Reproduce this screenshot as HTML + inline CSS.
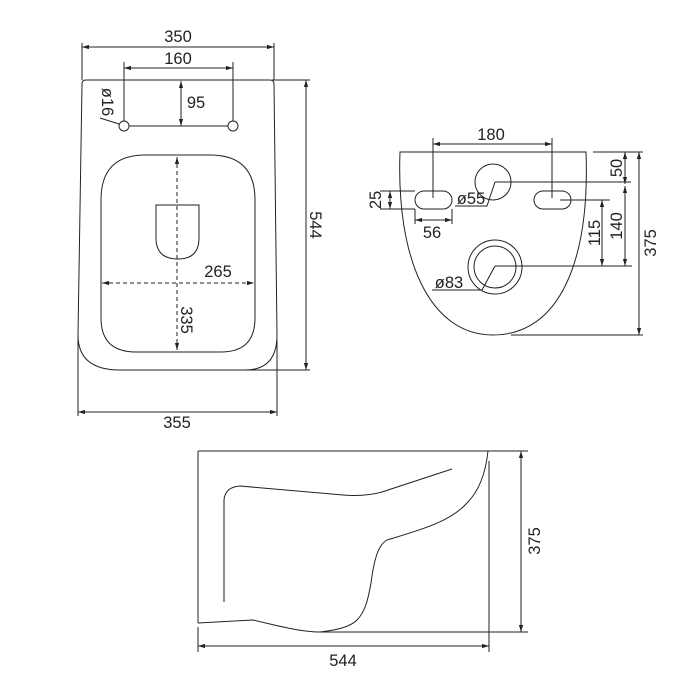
<!DOCTYPE html>
<html><head><style>html,body{margin:0;padding:0;background:#fff;}svg{display:block}</style></head>
<body>
<svg width="700" height="700" viewBox="0 0 700 700" xmlns="http://www.w3.org/2000/svg" font-family="Liberation Sans, sans-serif" font-size="16.5" fill="none" stroke="#222" stroke-width="1">
<defs>
<marker id="a" viewBox="0 0 10 10" refX="10" refY="5" markerWidth="7" markerHeight="7" orient="auto-start-reverse"><path d="M0,2 L10,5 L0,8 z" fill="#222" stroke="none"/></marker>
</defs>
<!-- TOP VIEW -->
<path d="M86,80 L270,80 Q274,80 274,84 L277,335 Q277,370 245,370 L120,370 Q78,370 78,335 L82,84 Q82,80 86,80 Z"/>
<path d="M82,43 V80 M274,43 V80"/>
<line x1="82" y1="47" x2="274" y2="47" marker-start="url(#a)" marker-end="url(#a)"/>
<path d="M124,62 V121 M233,62 V121"/>
<line x1="124" y1="68" x2="233" y2="68" marker-start="url(#a)" marker-end="url(#a)"/>
<circle cx="124" cy="126" r="5"/><circle cx="233" cy="126" r="5"/>
<line x1="129" y1="126" x2="228" y2="126"/>
<line x1="181" y1="81" x2="181" y2="126" marker-start="url(#a)" marker-end="url(#a)"/>
<path d="M100,118 L119,124"/>
<path d="M145,155 L210,155 Q255,155 255,200 L255,318 Q255,352 221,352 L136,352 Q101,352 101,318 L101,200 Q101,155 145,155 Z"/>
<path d="M156,205 H199 V238 Q199,259 178,259 Q156,259 156,238 Z"/>
<line x1="177" y1="157" x2="177" y2="350" stroke-dasharray="4,3" marker-start="url(#a)" marker-end="url(#a)"/>
<line x1="102" y1="283" x2="254" y2="283" stroke-dasharray="4,3" marker-start="url(#a)" marker-end="url(#a)"/>
<path d="M272,80 H310 M245,370 H310"/>
<line x1="306" y1="80" x2="306" y2="370" marker-start="url(#a)" marker-end="url(#a)"/>
<path d="M78,335 V416 M277,340 V416"/>
<line x1="78" y1="412" x2="277" y2="412" marker-start="url(#a)" marker-end="url(#a)"/>
<g fill="#222" stroke="none">
<text x="178" y="42" text-anchor="middle">350</text>
<text x="178" y="64" text-anchor="middle">160</text>
<text x="196" y="108" text-anchor="middle">95</text>
<text transform="translate(102,102) rotate(90)" text-anchor="middle">ø16</text>
<text x="218" y="277" text-anchor="middle">265</text>
<text transform="translate(181,320) rotate(90)" text-anchor="middle">335</text>
<text transform="translate(310,225) rotate(90)" text-anchor="middle">544</text>
<text x="177" y="428" text-anchor="middle">355</text>
</g>
<!-- FRONT VIEW -->
<path d="M400,152 H586 C590,260 560,335 493,335 C430,335 396,260 400,152 Z"/>
<path d="M511,335 H643 M593,152 H643"/>
<path d="M433,138 V198 M552,138 V198"/>
<line x1="433" y1="144" x2="552" y2="144" marker-start="url(#a)" marker-end="url(#a)"/>
<rect x="415" y="191" width="37" height="18" rx="9"/>
<rect x="534" y="191" width="37" height="18" rx="9"/>
<circle cx="493" cy="182" r="18"/>
<path d="M495,182 H631 M495,182 L487,206 H455"/>
<circle cx="495" cy="267" r="27"/><circle cx="495" cy="267" r="21"/>
<path d="M495,266 H632 M495,266 L482,290 H432"/>
<path d="M380,191 H415 M380,209 H415"/>
<line x1="390" y1="191" x2="390" y2="209" marker-start="url(#a)" marker-end="url(#a)"/>
<path d="M415,209 V224 M452,209 V224"/>
<line x1="415" y1="220" x2="452" y2="220" marker-start="url(#a)" marker-end="url(#a)"/>
<path d="M560,200 H610"/>
<line x1="602" y1="200" x2="602" y2="266" marker-start="url(#a)" marker-end="url(#a)"/>
<line x1="625" y1="186" x2="625" y2="266" marker-start="url(#a)" marker-end="url(#a)"/>
<line x1="625" y1="152" x2="625" y2="184" marker-start="url(#a)" marker-end="url(#a)"/>
<line x1="639" y1="152" x2="639" y2="335" marker-start="url(#a)" marker-end="url(#a)"/>
<g fill="#222" stroke="none">
<text x="491" y="140" text-anchor="middle">180</text>
<text x="471" y="204" text-anchor="middle">ø55</text>
<text x="449" y="288" text-anchor="middle">ø83</text>
<text x="432" y="238" text-anchor="middle">56</text>
<text transform="translate(381,200) rotate(-90)" text-anchor="middle">25</text>
<text transform="translate(600,233) rotate(-90)" text-anchor="middle">115</text>
<text transform="translate(622,226) rotate(-90)" text-anchor="middle">140</text>
<text transform="translate(622,168) rotate(-90)" text-anchor="middle">50</text>
<text transform="translate(656,243) rotate(-90)" text-anchor="middle">375</text>
</g>
<!-- SIDE VIEW -->
<path d="M198,451 H528 M198,451 V623"/>
<path d="M198,623 L253,620 C275,625 300,632 320,632 H528"/>
<path d="M488,451 C486,470 480,490 467,503 C450,522 420,530 387,540 C378,545 374,560 371,583 C368,600 365,612 357,620 C350,627 337,630 320,632"/>
<path d="M489,461 V652 M198,627 V652"/>
<line x1="198" y1="646" x2="489" y2="646" marker-start="url(#a)" marker-end="url(#a)"/>
<line x1="521" y1="451" x2="521" y2="632" marker-start="url(#a)" marker-end="url(#a)"/>
<path d="M224,602 V500 Q225,487 240,486 L343,495 Q370,497 388,490 L452,469"/>
<g fill="#222" stroke="none">
<text x="343" y="666" text-anchor="middle">544</text>
<text transform="translate(540,541) rotate(-90)" text-anchor="middle">375</text>
</g>
</svg>
</body></html>
